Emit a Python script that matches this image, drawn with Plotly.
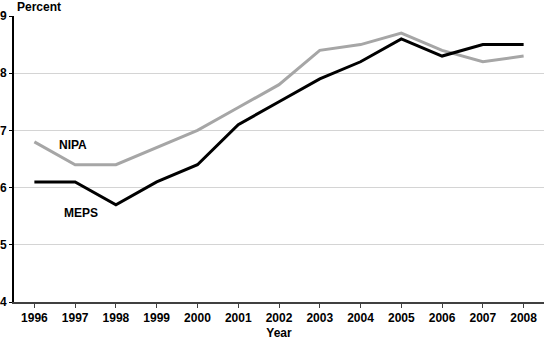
import plotly.graph_objects as go

years = [1996, 1997, 1998, 1999, 2000, 2001, 2002, 2003, 2004, 2005, 2006, 2007, 2008]
nipa = [6.8, 6.4, 6.4, 6.7, 7.0, 7.4, 7.8, 8.4, 8.5, 8.7, 8.4, 8.2, 8.3]
meps = [6.1, 6.1, 5.7, 6.1, 6.4, 7.1, 7.5, 7.9, 8.2, 8.6, 8.3, 8.5, 8.5]

font = dict(family="Liberation Sans, Arial, sans-serif", size=12, color="#000000")

fig = go.Figure()
fig.add_trace(go.Scatter(x=years, y=nipa, mode="lines", name="NIPA",
                         line=dict(color="#a6a6a6", width=3)))
fig.add_trace(go.Scatter(x=years, y=meps, mode="lines", name="MEPS",
                         line=dict(color="#000000", width=3)))

fig.update_layout(
    width=545, height=342,
    margin=dict(l=14, r=1, t=16, b=40),
    paper_bgcolor="white", plot_bgcolor="white",
    showlegend=False,
    font=font,
    xaxis=dict(
        range=[1995.5, 2008.5], tickvals=years, ticktext=[f"<b>{y}</b>" for y in years],
        showgrid=False, zeroline=False,
        showline=True, linecolor="#404040", linewidth=2,
        ticks="outside", ticklen=4, tickcolor="#404040",
        title=dict(text="<b>Year</b>", standoff=4, font=font),
    ),
    yaxis=dict(
        range=[4, 9], tickvals=[4, 5, 6, 7, 8, 9],
        ticktext=[f"<b>{v}</b>" for v in [4, 5, 6, 7, 8, 9]],
        showgrid=True, gridcolor="#d4d4d4", gridwidth=1,
        zeroline=False, showline=True, linecolor="#000000", linewidth=2,
        ticks="outside", ticklen=3, tickcolor="#000000",
    ),
    annotations=[
        dict(text="<b>Percent</b>", xref="paper", yref="paper", x=0.002, y=1.0,
             xanchor="left", yanchor="bottom", yshift=0, showarrow=False, font=font),
        dict(text="<b>NIPA</b>", x=1996.95, y=6.75, xref="x", yref="y",
             showarrow=False, font=font),
        dict(text="<b>MEPS</b>", x=1997.15, y=5.55, xref="x", yref="y",
             showarrow=False, font=font),
    ],
)

fig.write_html("out.html")
